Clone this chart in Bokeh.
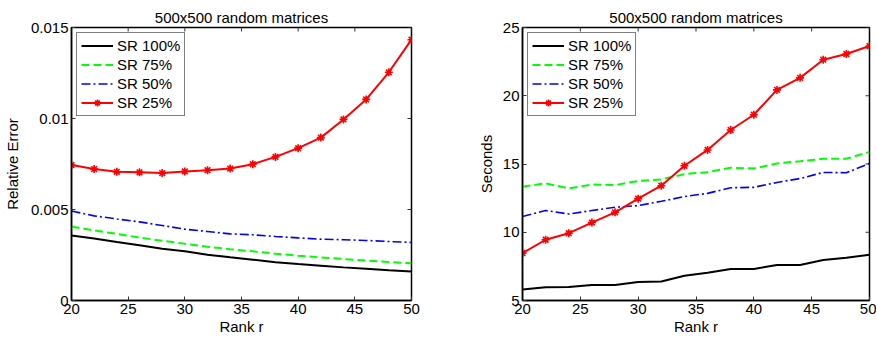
import math
from bokeh.plotting import figure
from bokeh.layouts import row
from bokeh.models import FixedTicker, Range1d, Legend
from bokeh.embed import file_html
from bokeh.resources import INLINE

rank = [20, 22, 24, 26, 28, 30, 32, 34, 36, 38, 40, 42, 44, 46, 48, 50]
labels = ["SR 100%", "SR 75%", "SR 50%", "SR 25%"]

err_100 = [0.00357, 0.00341, 0.00321, 0.00304, 0.00284, 0.00270, 0.00252, 0.00237,
           0.00224, 0.00210, 0.00200, 0.00191, 0.00182, 0.00175, 0.00166, 0.00160]
err_75 = [0.00406, 0.00385, 0.00366, 0.00346, 0.00328, 0.00312, 0.00295, 0.00282,
          0.00270, 0.00257, 0.00246, 0.00237, 0.00228, 0.00219, 0.00211, 0.00204]
err_50 = [0.00492, 0.00465, 0.00448, 0.00432, 0.00412, 0.00392, 0.00379, 0.00366,
          0.00361, 0.00352, 0.00344, 0.00337, 0.00334, 0.00330, 0.00324, 0.00319]
err_25 = [0.00744, 0.00722, 0.00707, 0.00704, 0.00700, 0.00709, 0.00716, 0.00725,
          0.00749, 0.00789, 0.00837, 0.00895, 0.00995, 0.01105, 0.01254, 0.01433]

sec_100 = [5.80, 5.97, 5.99, 6.14, 6.14, 6.36, 6.39, 6.82, 7.04, 7.31, 7.31, 7.60,
           7.60, 7.96, 8.13, 8.35]
sec_75 = [13.34, 13.58, 13.21, 13.50, 13.46, 13.75, 13.87, 14.26, 14.40, 14.72, 14.67,
          15.04, 15.20, 15.38, 15.38, 15.89]
sec_50 = [11.15, 11.59, 11.34, 11.59, 11.83, 11.95, 12.27, 12.61, 12.85, 13.26, 13.29,
          13.65, 13.94, 14.38, 14.36, 15.04]
sec_25 = [8.47, 9.45, 9.93, 10.71, 11.46, 12.46, 13.41, 14.87, 16.03, 17.49, 18.61,
          20.43, 21.31, 22.64, 23.06, 23.64]

x_ticks = [20, 25, 30, 35, 40, 45, 50]
err_ticks = [0, 0.005, 0.01, 0.015]
err_tick_labels = ["0", "0.005", "0.01", "0.015"]
sec_ticks = [5, 10, 15, 20, 25]

FONT = "Liberation Sans"
FS = "15px"


def style_axis(ax, ticks):
    ax.ticker = FixedTicker(ticks=ticks)
    ax.major_tick_in = 4
    ax.major_tick_out = 0
    ax.minor_tick_in = 0
    ax.minor_tick_out = 0
    ax.axis_line_color = "black"
    ax.axis_line_width = 1.5
    ax.major_tick_line_color = "#333333"
    ax.major_tick_line_width = 1
    ax.major_label_text_font = FONT
    ax.major_label_text_color = "black"
    ax.major_label_text_font_size = FS
    ax.major_label_standoff = 3
    ax.axis_label_text_font = FONT
    ax.axis_label_text_font_style = "normal"
    ax.axis_label_text_color = "black"
    ax.axis_label_text_font_size = FS


def make_fig(width, border_left, border_right, yrange, yticks, ylabel, ylabel_standoff,
             series, ytick_labels=None):
    p = figure(width=width, height=337, output_backend="svg", toolbar_location=None,
               x_range=Range1d(20, 50), y_range=Range1d(*yrange),
               min_border_left=border_left, min_border_right=border_right,
               min_border_top=27, min_border_bottom=36,
               title="500x500 random matrices")
    p.title.align = "center"
    p.title.text_font = FONT
    p.title.text_font_style = "normal"
    p.title.text_font_size = FS
    p.title.text_color = "black"
    p.title.standoff = 4
    p.xgrid.visible = False
    p.ygrid.visible = False
    p.outline_line_color = "black"
    p.outline_line_alpha = 1
    p.outline_line_width = 1.5
    p.background_fill_color = "white"
    p.border_fill_color = "white"

    style_axis(p.xaxis[0], x_ticks)
    p.xaxis[0].axis_label = "Rank r"
    p.xaxis[0].axis_label_standoff = 1
    style_axis(p.yaxis[0], yticks)
    p.yaxis[0].axis_label = ylabel
    p.yaxis[0].axis_label_standoff = ylabel_standoff
    if ytick_labels is not None:
        p.yaxis[0].major_label_overrides = {t: l for t, l in zip(yticks, ytick_labels)}

    # mirrored inward ticks on the top and right edges of the box
    p.scatter(x_ticks, [yrange[1]] * len(x_ticks), marker="dash", angle=math.pi / 2,
              size=8, line_color="#333333", line_width=1)
    p.scatter([50] * len(yticks), yticks, marker="dash", size=8,
              line_color="#333333", line_width=1)

    s100, s75, s50, s25 = series
    r1 = p.line(rank, s100, line_color="black", line_width=2)
    r2 = p.line(rank, s75, line_color="#00ff00", line_width=2, line_dash="8 4")
    r3 = p.line(rank, s50, line_color="blue", line_width=1.6, line_dash="9 3 2 3")
    r4 = p.line(rank, s25, line_color="red", line_width=2)
    r5 = p.scatter(rank, s25, marker="asterisk", size=8, line_color="red", line_width=1.6)

    legend = Legend(items=[(labels[0], [r1]), (labels[1], [r2]), (labels[2], [r3]),
                           (labels[3], [r4, r5])],
                    location="top_left")
    legend.border_line_color = "black"
    legend.border_line_width = 1.5
    legend.label_text_font = FONT
    legend.label_text_font_size = FS
    legend.label_text_color = "black"
    legend.glyph_width = 32
    legend.glyph_height = 17
    legend.label_height = 17
    legend.spacing = 2
    legend.padding = 4
    legend.margin = 5
    legend.label_standoff = 4
    legend.background_fill_alpha = 1
    p.add_layout(legend, "center")
    return p


p1 = make_fig(440, 70, 29, (0, 0.015), err_ticks, "Relative Error", 7,
              (err_100, err_75, err_50, err_25), err_tick_labels)
p2 = make_fig(436, 82, 7, (5, 25), sec_ticks, "Seconds", 5,
              (sec_100, sec_75, sec_50, sec_25))

layout = row(p1, p2, spacing=0)
open("out.html", "w").write(file_html(layout, INLINE))
